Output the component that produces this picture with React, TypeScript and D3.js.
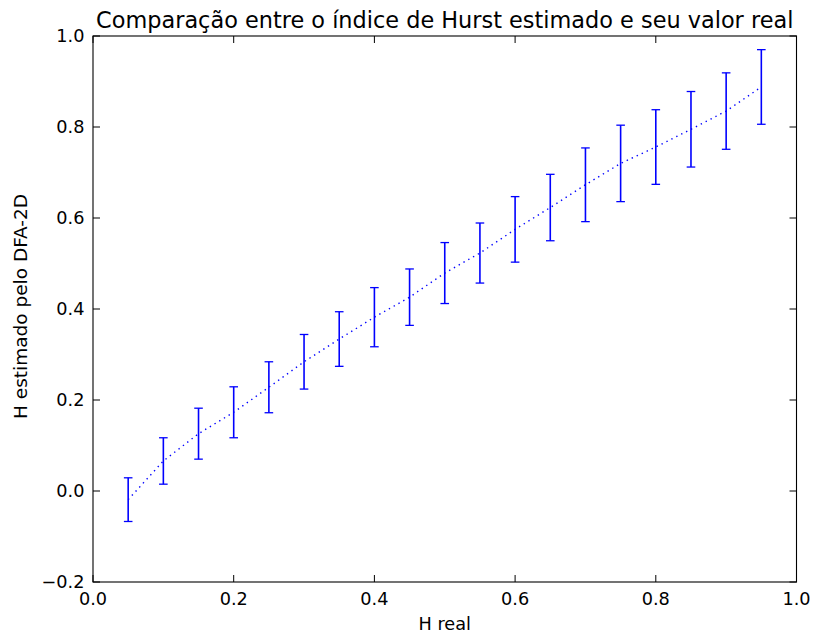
import React from "react";
import * as d3 from "d3";

// True Hurst exponent used to generate each surface
const hReal = [0.05, 0.1, 0.15, 0.2, 0.25, 0.3, 0.35, 0.4, 0.45, 0.5, 0.55, 0.6, 0.65, 0.7, 0.75, 0.8, 0.85, 0.9, 0.95];
// Mean exponent estimated by 2D-DFA
const hEstimated = [-0.019, 0.066, 0.126, 0.173, 0.228, 0.284, 0.334, 0.382, 0.426, 0.479, 0.523, 0.575, 0.623, 0.673, 0.72, 0.756, 0.795, 0.835, 0.888];
// Standard deviation of the estimates
const hStd = [0.048, 0.051, 0.056, 0.056, 0.056, 0.06, 0.06, 0.065, 0.062, 0.067, 0.066, 0.072, 0.073, 0.081, 0.084, 0.082, 0.083, 0.084, 0.082];

const xTicks = [0, 0.2, 0.4, 0.6, 0.8, 1.0];
const yTicks = [-0.2, 0, 0.2, 0.4, 0.6, 0.8, 1.0];

const W = 813;
const H = 634;
const margin = { left: 93, right: 813 - 796.5, top: 36, bottom: 634 - 582 };

export default function App() {
  const x = d3.scaleLinear().domain([0, 1]).range([margin.left, W - margin.right]);
  const y = d3.scaleLinear().domain([-0.2, 1.0]).range([H - margin.bottom, margin.top]);
  const font = "'DejaVu Sans', sans-serif";
  const blue = "#0000ff";
  const tickLen = 7;
  const fmt = (v: number) => {
    const s = d3.format(".1f")(Math.abs(v));
    return v < 0 ? "\u2212" + s : s;
  };

  const pts = hReal.map((h, i) => ({ h, m: hEstimated[i], s: hStd[i] }));
  const line = d3
    .line<{ h: number; m: number }>()
    .x((d) => x(d.h))
    .y((d) => y(d.m));

  const x0 = x(0), x1 = x(1), y0 = y(-0.2), y1 = y(1.0);
  const cap = 4.3;
  const fs = 17.7;

  return (
    <svg
      width={W}
      height={H}
      style={{ position: "absolute", left: 0, top: 0, background: "#fff" }}
      fontFamily={font}
    >
      <rect x={0} y={0} width={W} height={H} fill="#fff" />
      {/* mean curve */}
      <path d={line(pts) || ""} fill="none" stroke={blue} strokeWidth={1.4} strokeDasharray="1.4,4.1" />
      {/* error bars */}
      {pts.map((d, i) => (
        <g key={i} stroke={blue} strokeWidth={1.6}>
          <line x1={x(d.h)} x2={x(d.h)} y1={y(d.m - d.s)} y2={y(d.m + d.s)} />
          <line x1={x(d.h) - cap} x2={x(d.h) + cap} y1={y(d.m + d.s)} y2={y(d.m + d.s)} strokeWidth={1.3} />
          <line x1={x(d.h) - cap} x2={x(d.h) + cap} y1={y(d.m - d.s)} y2={y(d.m - d.s)} strokeWidth={1.3} />
        </g>
      ))}
      {/* frame */}
      <rect x={x0} y={y1} width={x1 - x0} height={y0 - y1} fill="none" stroke="#000" strokeWidth={1.1} />
      {/* x ticks */}
      {xTicks.map((t) => (
        <g key={"x" + t}>
          <line x1={x(t)} x2={x(t)} y1={y0} y2={y0 - tickLen} stroke="#000" strokeWidth={1} />
          <line x1={x(t)} x2={x(t)} y1={y1} y2={y1 + tickLen} stroke="#000" strokeWidth={1} />
          <text x={x(t)} y={y0 + 22.5} textAnchor="middle" fontSize={fs} fill="#000">
            {fmt(t)}
          </text>
        </g>
      ))}
      {/* y ticks */}
      {yTicks.map((t) => (
        <g key={"y" + t}>
          <line x1={x0} x2={x0 + tickLen} y1={y(t)} y2={y(t)} stroke="#000" strokeWidth={1} />
          <line x1={x1} x2={x1 - tickLen} y1={y(t)} y2={y(t)} stroke="#000" strokeWidth={1} />
          <text x={x0 - 8.5} y={y(t) + 6} textAnchor="end" fontSize={fs} fill="#000">
            {fmt(t)}
          </text>
        </g>
      ))}
      {/* titles */}
      <text x={(x0 + x1) / 2} y={28} textAnchor="middle" fontSize={22.4} fill="#000">
        Comparação entre o índice de Hurst estimado e seu valor real
      </text>
      <text x={(x0 + x1) / 2} y={630} textAnchor="middle" fontSize={fs} fill="#000">
        H real
      </text>
      <text
        transform={`translate(27, 306.5) rotate(-90)`}
        textAnchor="middle"
        fontSize={18.5}
        fill="#000"
      >
        H estimado pelo DFA-2D
      </text>
    </svg>
  );
}
